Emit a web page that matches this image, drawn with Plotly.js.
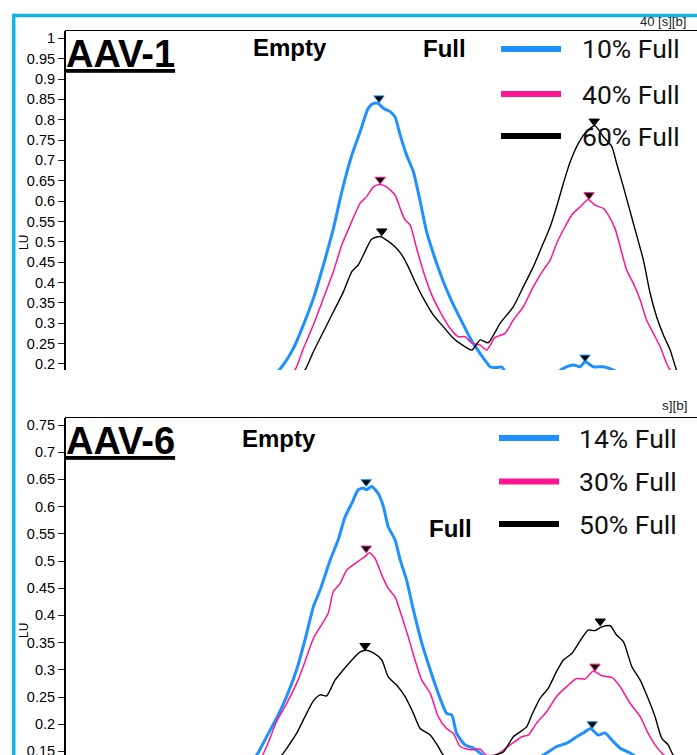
<!DOCTYPE html>
<html><head><meta charset="utf-8">
<script src="https://cdn.plot.ly/plotly-3.0.1.min.js"></script>
<style>html,body{margin:0;padding:0;background:#fff;overflow:hidden}#chart{width:697px;height:755px}</style>
</head><body><div id="chart"></div>
<script>
// ---------- DATA (retention time, min ; LU) ----------
// AAV-1
const aav1T10 = [4.5,5.13,5.46,5.71,5.96,6.21,6.46,6.71,6.92,7.17,7.38,7.58,7.71,7.83,7.96,8.13,8.25,8.38,8.54,8.71,8.88,9.04,9.25,9.46,9.71,9.92,10.13,10.29,10.46,10.63,10.79,10.92,11.07,11.63,12.25,12.46,12.71,12.88,13.0,13.21,13.46,13.71,14.13,15.8];
const aav1V10 = [0.10,0.16,0.198,0.238,0.296,0.361,0.443,0.533,0.623,0.713,0.771,0.828,0.840,0.840,0.828,0.820,0.807,0.762,0.713,0.672,0.599,0.525,0.459,0.402,0.345,0.304,0.263,0.238,0.214,0.193,0.191,0.192,0.172,0.165,0.175,0.189,0.197,0.193,0.205,0.193,0.193,0.185,0.16,0.12];
const aav1T40 = [4.5,5.45,5.75,5.96,6.21,6.46,6.71,6.92,7.13,7.38,7.54,7.71,7.86,8.04,8.25,8.38,8.5,8.63,8.79,8.96,9.17,9.38,9.63,9.83,10.0,10.17,10.38,10.54,10.75,11.0,11.21,11.46,11.71,11.96,12.13,12.29,12.5,12.67,12.88,13.08,13.25,13.46,13.58,13.75,13.88,14.04,14.21,14.38,14.54,14.71,14.88,15.04,15.13,15.63,15.8];
const aav1V40 = [0.10,0.16,0.185,0.238,0.296,0.361,0.427,0.492,0.541,0.595,0.611,0.635,0.641,0.635,0.615,0.582,0.554,0.541,0.484,0.427,0.369,0.328,0.287,0.267,0.267,0.251,0.246,0.234,0.265,0.275,0.308,0.341,0.390,0.431,0.455,0.496,0.537,0.566,0.586,0.604,0.590,0.582,0.566,0.533,0.488,0.431,0.398,0.357,0.308,0.275,0.242,0.201,0.185,0.14,0.13];
const aav1T60 = [4.5,5.75,6.0,6.21,6.46,6.71,6.96,7.17,7.33,7.5,7.67,7.88,8.04,8.25,8.42,8.58,8.75,8.96,9.21,9.46,9.67,9.88,10.17,10.38,10.58,10.88,11.21,11.46,11.71,11.92,12.13,12.29,12.46,12.63,12.88,13.04,13.25,13.46,13.67,13.79,13.96,14.21,14.46,14.63,14.79,14.96,15.13,15.29,15.8];
const aav1V60 = [0.10,0.16,0.185,0.230,0.279,0.328,0.377,0.427,0.443,0.476,0.507,0.513,0.504,0.488,0.468,0.439,0.402,0.361,0.320,0.291,0.267,0.250,0.234,0.259,0.252,0.300,0.341,0.390,0.439,0.488,0.537,0.586,0.644,0.697,0.750,0.771,0.785,0.758,0.734,0.693,0.635,0.545,0.455,0.373,0.316,0.271,0.234,0.185,0.10];
// AAV-1 peak apexes
const aav1PeakT10 = [7.85, 13.0],  aav1PeakV10 = [0.842, 0.205];
const aav1PeakT40 = [7.88, 13.1],  aav1PeakV40 = [0.642, 0.604];
const aav1PeakT60 = [7.92, 13.23], aav1PeakV60 = [0.515, 0.785];

// AAV-6
const aav6T14 = [4.0,4.5,4.79,5.04,5.29,5.54,5.79,6.0,6.21,6.38,6.63,6.83,7.0,7.17,7.33,7.46,7.54,7.67,7.83,7.96,8.08,8.25,8.38,8.54,8.71,8.92,9.13,9.33,9.54,9.67,9.79,10.0,10.21,10.38,10.63,11.38,12.04,12.29,12.54,12.79,13.0,13.14,13.33,13.5,13.67,13.88,14.13,14.63,15.8];
const aav6V14 = [0.10,0.12,0.143,0.177,0.211,0.251,0.300,0.355,0.416,0.447,0.502,0.539,0.581,0.606,0.631,0.634,0.631,0.637,0.624,0.600,0.563,0.539,0.502,0.465,0.410,0.349,0.300,0.257,0.220,0.217,0.183,0.162,0.156,0.147,0.13,0.12,0.147,0.159,0.165,0.177,0.186,0.192,0.180,0.184,0.171,0.156,0.147,0.125,0.10];
const aav6T30 = [4.0,4.75,5.04,5.29,5.54,5.79,6.0,6.21,6.38,6.58,6.71,6.88,7.04,7.21,7.38,7.5,7.61,7.75,7.92,8.08,8.25,8.42,8.58,8.75,8.92,9.13,9.33,9.54,9.71,9.88,10.13,10.38,10.53,10.79,11.13,11.42,11.58,11.79,12.04,12.29,12.54,12.79,13.0,13.21,13.42,13.67,13.88,14.13,14.38,14.58,14.75,14.92,15.38,15.8];
const aav6V30 = [0.10,0.12,0.159,0.205,0.238,0.275,0.315,0.358,0.379,0.404,0.444,0.459,0.483,0.493,0.502,0.508,0.515,0.505,0.474,0.450,0.434,0.398,0.361,0.318,0.281,0.257,0.214,0.192,0.183,0.159,0.153,0.154,0.143,0.144,0.162,0.177,0.180,0.202,0.223,0.251,0.269,0.284,0.283,0.298,0.289,0.286,0.269,0.238,0.214,0.183,0.162,0.147,0.12,0.10];
const aav6T50 = [4.0,5.13,5.42,5.63,5.79,6.0,6.21,6.38,6.54,6.75,6.96,7.17,7.38,7.53,7.71,7.92,8.08,8.29,8.5,8.71,8.88,9.13,9.33,9.46,9.88,10.38,10.75,10.96,11.21,11.38,11.54,11.67,11.88,12.08,12.29,12.46,12.67,12.92,13.08,13.25,13.42,13.63,13.79,13.96,14.17,14.38,14.54,14.75,14.92,15.08,15.21,15.63,15.8];
const aav6V50 = [0.10,0.12,0.143,0.165,0.183,0.214,0.243,0.254,0.252,0.281,0.300,0.318,0.333,0.336,0.331,0.318,0.287,0.272,0.251,0.220,0.192,0.180,0.159,0.143,0.125,0.12,0.143,0.149,0.177,0.186,0.195,0.217,0.248,0.266,0.297,0.318,0.330,0.358,0.373,0.372,0.379,0.381,0.364,0.352,0.306,0.281,0.254,0.214,0.174,0.162,0.143,0.12,0.10];
const aav6PeakT14 = [7.53, 13.18],  aav6PeakV14 = [0.637, 0.192];
const aav6PeakT30 = [7.53, 13.25],  aav6PeakV30 = [0.515, 0.298];
const aav6PeakT50 = [7.5, 13.38],   aav6PeakV50 = [0.336, 0.381];

const aav1Names = ['10% Full','40% Full','60% Full'];
const aav6Names = ['14% Full','30% Full','50% Full'];
const aav1TickVals = [0.2,0.25,0.3,0.35,0.4,0.45,0.5,0.55,0.6,0.65,0.7,0.75,0.8,0.85,0.9,0.95,1];
const aav1TickText = ['0.2','0.25','0.3','0.35','0.4','0.45','0.5','0.55','0.6','0.65','0.7','0.75','0.8','0.85','0.9','0.95','1'];
const aav6TickVals = [0.15,0.2,0.25,0.3,0.35,0.4,0.45,0.5,0.55,0.6,0.65,0.7,0.75];
const aav6TickText = ['0.15','0.2','0.25','0.3','0.35','0.4','0.45','0.5','0.55','0.6','0.65','0.7','0.75'];

// ---------- LAYOUT HELPERS ----------
const W=697, H=755, ML=65, MT=31, MR=0, MB=0;
const PW=W-ML-MR, PH=H-MT-MB;
const px2x = p => (p-ML)/PW;
const py2y = p => (H-MB-p)/PH;
const BLUE='#1e90ff', PINK='#ff1493', BLACK='#000000';
const colors=[BLUE,PINK,BLACK];
const widths=[3,1.5,1.4];

const topRange=[0.185,1.018], botRange=[0.1434,0.7629];
const topPx=[31,370], botPx=[418,755];
const topOff = 4.5*(topRange[1]-topRange[0])/(topPx[1]-topPx[0]);
const botOff = 4.5*(botRange[1]-botRange[0])/(botPx[1]-botPx[0]);

const traces=[];
function addPanel(Ts,Vs,PTs,PVs,xa,ya,off){
  for(let i=0;i<3;i++){
    traces.push({x:Ts[i],y:Vs[i],xaxis:xa,yaxis:ya,mode:'lines',
      line:{color:colors[i],width:widths[i],shape:'spline',smoothing:0.6},showlegend:false,hoverinfo:'skip'});
  }
  for(let i=0;i<3;i++){
    traces.push({x:PTs[i],y:PVs[i].map(v=>v+off),xaxis:xa,yaxis:ya,mode:'markers',
      marker:{symbol:'triangle-down',size:9,color:'#000',line:{color:colors[i],width:1}},showlegend:false,hoverinfo:'skip',cliponaxis:false});
  }
}
addPanel([aav1T10,aav1T40,aav1T60],[aav1V10,aav1V40,aav1V60],[aav1PeakT10,aav1PeakT40,aav1PeakT60],[aav1PeakV10,aav1PeakV40,aav1PeakV60],'x','y',topOff);
addPanel([aav6T14,aav6T30,aav6T50],[aav6V14,aav6V30,aav6V50],[aav6PeakT14,aav6PeakT30,aav6PeakT50],[aav6PeakV14,aav6PeakV30,aav6PeakV50],'x2','y2',botOff);

const tickFont={family:'"Liberation Sans", Arial, sans-serif',size:14.5,color:'#000'};
function xax(anchor){return {anchor:anchor,side:'top',range:[0,15.8],showline:true,linecolor:'#000',linewidth:1.5,ticks:'',showticklabels:false,showgrid:false,zeroline:false,domain:[0,1]};}
function yax(range,dom,tv,tt){return {range:range,domain:dom,showline:true,linecolor:'#000',linewidth:2,ticks:'outside',ticklen:6,tickwidth:1,tickcolor:'#222',tickvals:tv,ticktext:tt,tickfont:tickFont,ticklabeloverflow:'allow',showgrid:false,zeroline:false,anchor:'free',position:0};}

const ann=[], shapes=[];
function txt(t,x,y,size,opt){
  ann.push(Object.assign({text:t,xref:'paper',yref:'paper',x:px2x(x),y:py2y(y),xanchor:'left',yanchor:'middle',showarrow:false,
    font:Object.assign({family:'"Liberation Sans", Arial, sans-serif',size:size,color:'#000'},(opt&&opt.font)||{})},(opt&&opt.extra)||{}));
}
const boldF={family:'"Liberation Sans", Arial, sans-serif',weight:700};
txt('<u>AAV-1</u>',64,54,38,{font:boldF});
txt('Empty',251,47,24,{font:boldF});
txt('Full',421,48,24,{font:boldF});
txt('<u>AAV-6</u>',64,441,38,{font:boldF});
txt('Empty',240,438,24,{font:boldF});
txt('Full',427,528,24,{font:boldF});
// y titles
txt('LU',24,243,12,{extra:{xanchor:'center',textangle:-90}});
txt('LU',24,631,12,{extra:{xanchor:'center',textangle:-90}});
// cropped fragments
txt('40 [s][b]',638,21,13,{font:{color:'#222'}});
txt('s][b]',660,406,13.5,{font:{color:'#222'}});

function legend(names,ys,x0,x1,tx){
  names.forEach((n,i)=>{
    shapes.push({type:'line',xref:'paper',yref:'paper',x0:px2x(x0),x1:px2x(x1),y0:py2y(ys[i]),y1:py2y(ys[i]),line:{color:colors[i],width:6}});
    txt(n,tx,ys[i],26.5,{font:{family:'Roboto, sans-serif',color:'#111'}});
  });
}
legend(aav1Names,[49,94,136],501,561,580);
legend(aav6Names,[438,481.5,524],499,559,577);

// cyan frame
const CY='#12b4e4';
shapes.push({type:'line',xref:'paper',yref:'paper',x0:px2x(13.7),x1:px2x(720),y0:py2y(15.5),y1:py2y(15.5),line:{color:CY,width:3.5},layer:'above'});
shapes.push({type:'line',xref:'paper',yref:'paper',x0:px2x(13.7),x1:px2x(13.7),y0:py2y(13.8),y1:py2y(780),line:{color:CY,width:3.5},layer:'above'});

const layout={width:W,height:H,margin:{l:ML,r:MR,t:MT,b:MB,pad:0},paper_bgcolor:'#fff',plot_bgcolor:'#fff',showlegend:false,
  xaxis:xax('y'),xaxis2:xax('y2'),
  yaxis:yax(topRange,[py2y(topPx[1]),1],aav1TickVals,aav1TickText),
  yaxis2:yax(botRange,[0,py2y(botPx[0])],aav6TickVals,aav6TickText),
  annotations:ann,shapes:shapes};
Plotly.newPlot('chart',traces,layout,{staticPlot:true,displayModeBar:false});
</script></body></html>
